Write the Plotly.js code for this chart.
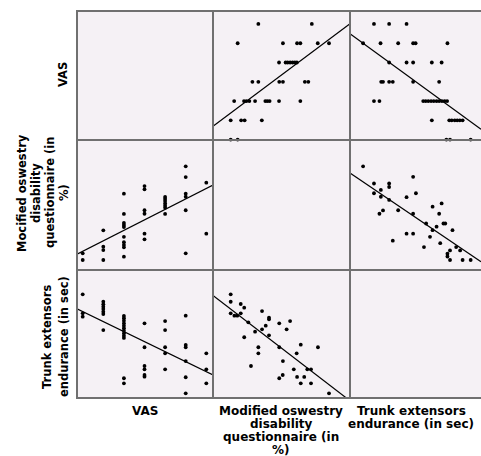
<!DOCTYPE html>
<html>
<head>
<meta charset="utf-8">
<script src="https://cdn.plot.ly/plotly-3.0.1.min.js"></script>
<style>html,body{margin:0;padding:0;background:#fff;}#chart{width:481px;height:456px;}</style>
</head>
<body>
<div id="chart"></div>
<script>
// Variable names (x labels and y labels)
const xLabels = [
  ["VAS"],
  ["Modified oswestry", "disability", "questionnaire (in", "%)"],
  ["Trunk extensors", "endurance (in sec)"]
];
const yLabels = [
  ["VAS"],
  ["Mocified oswestry", "disability", "questionnaire (in", "%)"],
  ["Trunk extensors", "endurance (in sec)"]
];

// Pair 1: VAS vs Modified Oswestry (%)
const vasA = [3,3, 4,4,4,4, 5,5,5,5,5,5,5,5,5,5, 6,6,6,6,6,6, 7,7,7,7,7,7,7, 8,8,8,8,8,8, 9,9];
const odiA = [11.4,8.0, 23.2,14.8,13.1,8.0, 42.0,31.6,27.0,25.9,24.9,19.9,17.1,15.7,14.5,9.7,
              45.9,44.2,33.5,31.7,21.5,18.6, 40.3,39.3,38.2,37.0,35.8,34.8,31.6,
              56.0,50.5,42.0,40.4,33.5,11.4, 47.6,21.5];

// Pair 2: VAS vs Trunk extensors endurance (sec)
const vasB = [3,3,3, 4,4,4,4,4,4,4, 5,5,5,5,5,5,5,5,5,5,5,5, 6,6,6,6,6,6, 7,7,7,7,7, 8,8,8,8,8,8, 9,9,9];
const teeB = [105.0,85.8,82.4, 97.5,94.9,92.5,90.2,87.4,85.1,68.9,
              83.1,80.8,78.3,75.7,73.3,70.7,68.2,65.6,63.2,60.9,20.2,15.1,
              75.7,51.5,32.6,29.2,23.5,21.8, 78.0,68.9,51.5,45.4,29.2,
              83.4,53.8,51.5,37.6,21.2,5.0, 45.4,29.2,15.1];

// Pair 3: Modified Oswestry (%) vs Trunk extensors endurance (sec)
const odiC = [8.0,8.0,8.0,9.8,11.2,12.9,14.6,12.9,16.6,23.3,26.7,26.7,25.1,23.3,19.9,14.6,26.7,31.7,37.0,35.3,
              31.7,21.5,21.5,42.2,40.2,50.6,33.5,17.9,38.8,45.4,47.2,33.4,31.7,40.4,43.9,42.2,47.2,56.0];
const teeC = [105.0,97.5,85.8,83.4,83.4,95.2,91.5,85.8,76.7,88.1,81.4,79.7,73.3,69.6,67.2,61.6,63.6,75.7,78.0,69.6,
              51.5,51.5,45.4,54.1,45.4,51.5,37.6,32.6,29.2,29.2,29.2,23.5,20.2,21.5,21.5,15.1,15.1,5.0];

const W = 481, H = 456;
const colPx = [[77, 213], [213, 350], [350, 481]];
const rowPx = [[11, 140], [140, 270], [270, 398]];
const colRange = [[2.723, 9.325], [-0.64, 66.24], [-7.18, 114.6]];
const rowRange = [[2.98, 9.673], [2.88, 69.48], [0.25, 129.55]];

const pairs = {
  "0-1": [vasA, odiA],
  "0-2": [vasB, teeB],
  "1-2": [odiC, teeC]
};

function linFit(x, y) {
  const n = x.length;
  let mx = 0, my = 0;
  for (let i = 0; i < n; i++) { mx += x[i]; my += y[i]; }
  mx /= n; my /= n;
  let sxy = 0, sxx = 0;
  for (let i = 0; i < n; i++) { sxy += (x[i]-mx)*(y[i]-my); sxx += (x[i]-mx)*(x[i]-mx); }
  const b = sxy / sxx;
  return { a: my - b*mx, b: b };
}

const frameColor = "#707070";
const traces = [];
const layout = {
  width: W, height: H,
  margin: {l: 0, r: 0, t: 0, b: 0, pad: 0},
  paper_bgcolor: "#ffffff",
  plot_bgcolor: "#f5f1f5",
  showlegend: false,
  annotations: [],
  shapes: []
};

for (let r = 0; r < 3; r++) {
  for (let c = 0; c < 3; c++) {
    const k = r*3 + c + 1;
    const xa = "x" + k, ya = "y" + k;
    layout["xaxis" + k] = {
      domain: [colPx[c][0]/W, colPx[c][1]/W],
      anchor: ya, range: colRange[c],
      showgrid: false, zeroline: false, showticklabels: false, ticks: "", showline: false
    };
    layout["yaxis" + k] = {
      domain: [1 - rowPx[r][1]/H, 1 - rowPx[r][0]/H],
      anchor: xa, range: rowRange[r],
      showgrid: false, zeroline: false, showticklabels: false, ticks: "", showline: false
    };
    if (r === c) {
      traces.push({type: "scatter", mode: "markers", x: [], y: [], xaxis: xa, yaxis: ya, hoverinfo: "skip"});
      continue;
    }
    const i = Math.min(r, c), j = Math.max(r, c);
    const pr = pairs[i + "-" + j];
    const xs = (c === i) ? pr[0] : pr[1];
    const ys = (r === i) ? pr[0] : pr[1];
    traces.push({
      type: "scatter", mode: "markers", x: xs, y: ys, xaxis: xa, yaxis: ya,
      marker: {color: "#000000", size: 3.8}, cliponaxis: false
    });
    const f = linFit(xs, ys);
    const lx = colRange[c];
    traces.push({
      type: "scatter", mode: "lines", x: lx, y: lx.map(v => f.a + f.b*v), xaxis: xa, yaxis: ya,
      line: {color: "#000000", width: 1.2}
    });
  }
}

// frame lines of the matrix (no right edge: cut at picture edge)
const hLines = [11, 140, 270, 398];
const vLines = [77, 213, 350];
hLines.forEach(py => layout.shapes.push({
  type: "line", xref: "paper", yref: "paper", x0: 76/W, x1: 1, y0: 1 - py/H, y1: 1 - py/H,
  line: {color: frameColor, width: 2}
}));
vLines.forEach(px => layout.shapes.push({
  type: "line", xref: "paper", yref: "paper", x0: px/W, x1: px/W, y0: 1 - 399/H, y1: 1 - 10/H,
  line: {color: frameColor, width: 2}
}));

const lblFont = {family: "DejaVu Sans", size: 12, color: "#000000", weight: "bold"};
const ylblFont = {family: "DejaVu Sans", size: 11.5, color: "#000000", weight: "bold"};

// x labels below columns
const xCenters = [145, 281, 411];
const xLineY = 411, xLineStep = 13;
xLabels.forEach((lines, c) => {
  lines.forEach((t, li) => {
    layout.annotations.push({
      xref: "paper", yref: "paper", x: xCenters[c]/W, y: 1 - (xLineY + li*xLineStep)/H,
      xanchor: "center", yanchor: "middle", showarrow: false, text: t, font: lblFont, borderpad: 0
    });
  });
});

// y labels left of rows (rotated)
const yCenters = [75, 193, 337];
const yLineX = [[63], [22, 36, 50, 64], [47, 64]];
yLabels.forEach((lines, r) => {
  lines.forEach((t, li) => {
    layout.annotations.push({
      xref: "paper", yref: "paper", x: yLineX[r][li]/W, y: 1 - yCenters[r]/H,
      xanchor: "center", yanchor: "middle", showarrow: false, textangle: -90, text: t, font: ylblFont, borderpad: 0
    });
  });
});

Plotly.newPlot("chart", traces, layout, {displayModeBar: false, staticPlot: true});
</script>
</body>
</html>
